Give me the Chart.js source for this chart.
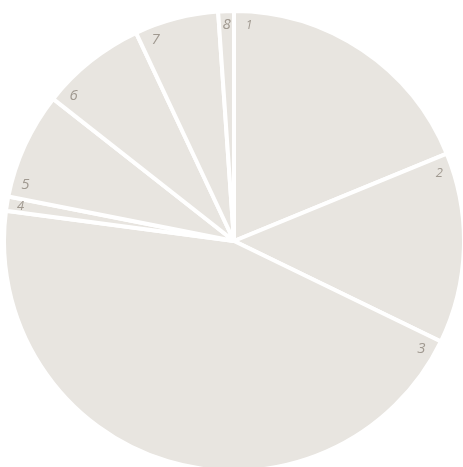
<!DOCTYPE html>
<html>
<head>
<meta charset="utf-8">
<script src="https://cdn.jsdelivr.net/npm/chart.js@4"></script>
<style>
  html, body { margin: 0; padding: 0; width: 463px; height: 467px; overflow: hidden; background: #ffffff; position: relative; }
  #wrap { position: absolute; left: 2px; top: 9px; width: 464px; height: 464px; }
</style>
</head>
<body>
<div id="wrap"><canvas id="c" width="464" height="464"></canvas></div>
<script>
const categories = ["1", "2", "3", "4", "5", "6", "7", "8"];
const values = [18.8, 13.4, 44.9, 1.0, 7.5, 7.4, 5.9, 1.1];

// label font sizes (style only)
const labelFontPx = [12, 13, 15, 13, 15, 15, 15, 15];

const sliceLabels = {
  id: 'sliceLabels',
  afterDraw(chart) {
    const ctx = chart.ctx;
    const meta = chart.getDatasetMeta(0);
    ctx.save();
    ctx.fillStyle = '#a09990';
    ctx.textAlign = 'center';
    ctx.textBaseline = 'middle';
    meta.data.forEach((arc, i) => {
      const p = arc.getProps(['x', 'y', 'startAngle', 'endAngle', 'outerRadius'], true);
      const r = p.outerRadius * 0.94;
      const half = (p.endAngle - p.startAngle) / 2;
      const a = p.startAngle + Math.min(15 / r, half);
      ctx.font = 'italic ' + labelFontPx[i] + 'px "Open Sans", "DejaVu Sans", sans-serif';
      ctx.fillText(categories[i], p.x + r * Math.cos(a), p.y + r * Math.sin(a));
    });
    ctx.restore();
  }
};

new Chart(document.getElementById('c'), {
  type: 'pie',
  data: {
    labels: categories,
    datasets: [{
      data: values,
      backgroundColor: '#e8e5e0',
      borderColor: '#ffffff',
      borderWidth: 4
    }]
  },
  options: {
    responsive: false,
    animation: false,
    layout: { padding: 0 },
    plugins: {
      legend: { display: false },
      tooltip: { enabled: false }
    }
  },
  plugins: [sliceLabels]
});
</script>
</body>
</html>
